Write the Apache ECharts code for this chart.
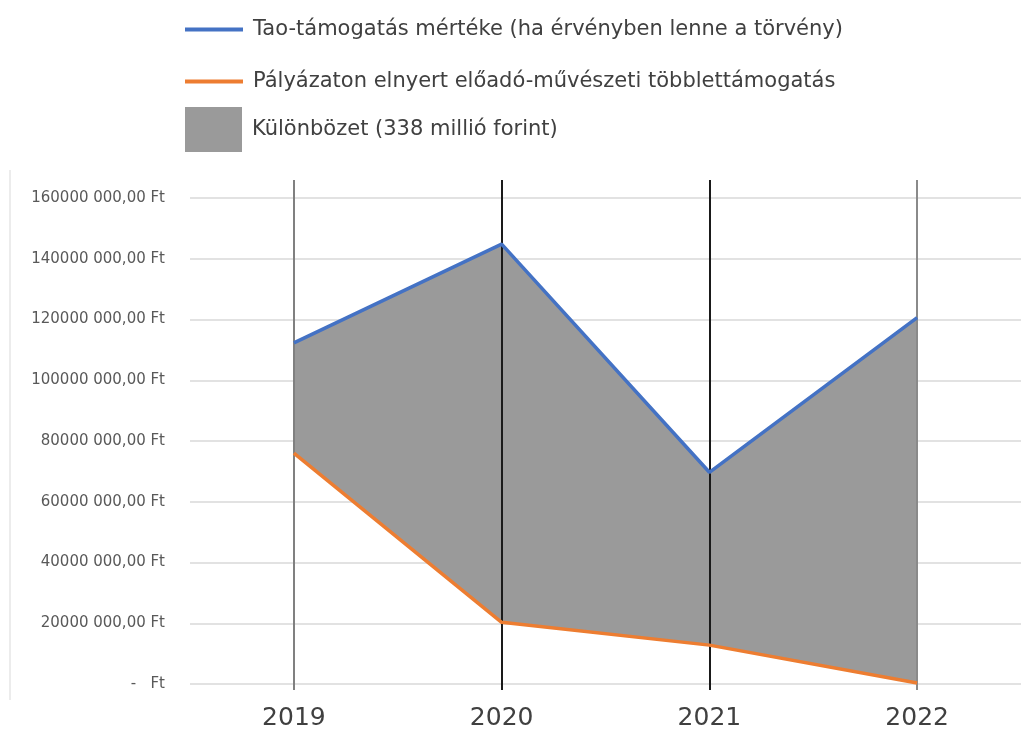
<!DOCTYPE html>
<html>
<head>
<meta charset="utf-8">
<script src="https://cdn.jsdelivr.net/npm/echarts@6/dist/echarts.min.js"></script>
<style>html,body{margin:0;padding:0;background:#fff;}#c{width:1028px;height:731px;}</style>
</head>
<body>
<div id="c"></div>
<script>
const years = ['2019', '2020', '2021', '2022'];
const taoValues = [112300000, 144800000, 69700000, 120600000];
const palyazatValues = [76000000, 20300000, 12800000, 300000];
const yTickLabels = ['-   Ft', '20000 000,00 Ft', '40000 000,00 Ft', '60000 000,00 Ft', '80000 000,00 Ft',
  '100000 000,00 Ft', '120000 000,00 Ft', '140000 000,00 Ft', '160000 000,00 Ft'];
const seriesNames = ['Tao-támogatás mértéke (ha érvényben lenne a törvény)',
  'Pályázaton elnyert előadó-művészeti többlettámogatás',
  'Különbözet (338 millió forint)'];

const diffValues = taoValues.map((v, i) => v - palyazatValues[i]);
const chart = echarts.init(document.getElementById('c'));
const FONT = 'DejaVu Sans';
const legendText = { fontFamily: FONT, fontSize: 21, color: '#404040', padding: [0, 0, 0, 5] };

chart.setOption({
  animation: false,
  backgroundColor: '#fff',
  graphic: [{ type: 'line', shape: { x1: 10, y1: 170, x2: 10, y2: 700 }, style: { stroke: '#d9d9d9', lineWidth: 1 } }],
  legend: [
    { data: [seriesNames[0]], left: 180, top: 14, icon: 'rect', itemWidth: 58, itemHeight: 4, textStyle: legendText },
    { data: [seriesNames[1]], left: 180, top: 66, icon: 'rect', itemWidth: 58, itemHeight: 4, textStyle: legendText },
    { data: [seriesNames[2]], left: 180, top: 102, icon: 'rect', itemWidth: 57, itemHeight: 45, textStyle: legendText }
  ],
  grid: [
    { left: 190, right: 7, top: 198, bottom: 47 },
    { left: 190, right: 7, top: 180, bottom: 41 }
  ],
  xAxis: [
    { type: 'category', data: years, gridIndex: 0, boundaryGap: true,
      axisLine: { show: false }, axisTick: { show: false }, splitLine: { show: false },
      axisLabel: { fontFamily: FONT, fontSize: 25, color: '#404040', margin: 22 } },
    { type: 'category', data: years, gridIndex: 1, boundaryGap: true, show: false }
  ],
  yAxis: [
    { type: 'value', gridIndex: 0, min: 0, max: 160000000, interval: 20000000,
      axisLine: { show: false }, axisTick: { show: false },
      splitLine: { lineStyle: { color: '#d9d9d9', width: 1.5 } },
      axisLabel: { fontFamily: FONT, fontSize: 15, color: '#595959', margin: 25,
        formatter: (v) => yTickLabels[Math.round(v / 20000000)] } },
    { type: 'value', gridIndex: 1, min: 0, max: 1, show: false }
  ],
  series: [
    { name: 'base', type: 'line', stack: 'diff', data: palyazatValues, symbol: 'none',
      lineStyle: { opacity: 0 }, silent: true, z: 1 },
    { name: seriesNames[2], type: 'line', stack: 'diff', data: diffValues, symbol: 'none',
      color: '#9a9a9a', lineStyle: { width: 0, opacity: 0 }, areaStyle: { color: '#9a9a9a', opacity: 1 }, z: 2 },
    { name: 'vlines', type: 'line', xAxisIndex: 1, yAxisIndex: 1, data: [], z: 3,
      markLine: { symbol: 'none', silent: true, label: { show: false },
        data: [
          { xAxis: '2019', lineStyle: { color: '#808080', width: 2, type: 'solid' } },
          { xAxis: '2020', lineStyle: { color: '#1a1a1a', width: 2, type: 'solid' } },
          { xAxis: '2021', lineStyle: { color: '#1a1a1a', width: 2, type: 'solid' } },
          { xAxis: '2022', lineStyle: { color: '#8a8a8a', width: 2, type: 'solid' } }
        ] } },
    { name: seriesNames[0], type: 'line', data: taoValues, symbol: 'none', color: '#4472C4',
      lineStyle: { color: '#4472C4', width: 3.5 }, z: 5 },
    { name: seriesNames[1], type: 'line', data: palyazatValues, symbol: 'none', color: '#ED7D31',
      lineStyle: { color: '#ED7D31', width: 3.5 }, z: 5 }
  ]
});
</script>
</body>
</html>
